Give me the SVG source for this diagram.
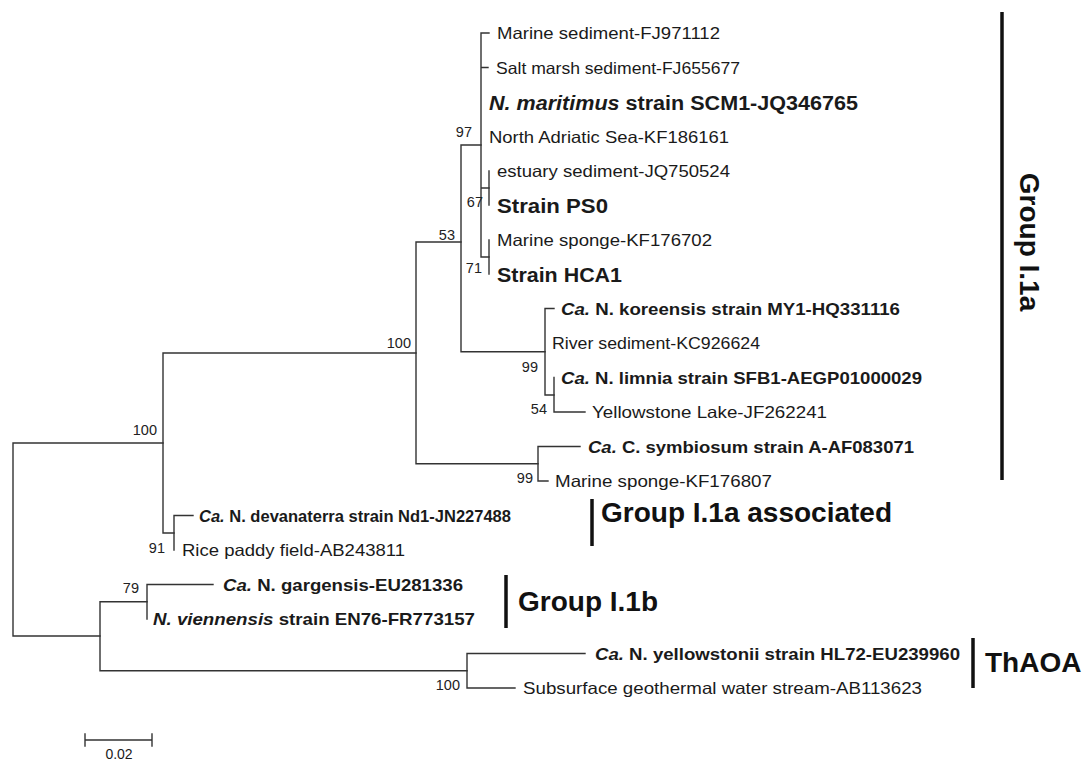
<svg xmlns="http://www.w3.org/2000/svg" width="1085" height="761" viewBox="0 0 1085 761">
<style>
.br{fill:none;stroke:#333;stroke-width:1.4;stroke-linecap:square}
.lf{font-family:"Liberation Sans",Arial,sans-serif;font-size:16.5px;fill:#1a1a1a}
.lb{font-family:"Liberation Sans",Arial,sans-serif;font-size:16.5px;font-weight:bold;fill:#1a1a1a}
.big{font-family:"Liberation Sans",Arial,sans-serif;font-size:20px;font-weight:bold;fill:#1a1a1a}
.sp{font-family:"Liberation Sans",Arial,sans-serif;font-size:14.5px;fill:#222;text-anchor:end}
.grp{font-family:"Liberation Sans",Arial,sans-serif;font-size:28px;font-weight:bold;fill:#111}
.bar{stroke:#111;stroke-width:3.5}
.it{font-style:italic}
</style>
<rect width="1085" height="761" fill="#fff"/>
<g id="connectors">
<path class="br" d="M13 443V636M13 443H163M13 636H100"/>
<path class="br" d="M163 353V533M163 353H416M163 533H174"/>
<path class="br" d="M174 515.5V550M174 515.5H193"/>
<path class="br" d="M416 242V463.75M416 242H461M416 463.75H538"/>
<path class="br" d="M461 145V351.75M461 145H481M461 351.75H545"/>
<path class="br" d="M481 33V257M481 33H489M481 67.5H488M481 188H489M481 257H489"/>
<path class="br" d="M489 171V205M489 240V274"/>
<path class="br" d="M545 308.5V395M545 308.5H554M545 395H554"/>
<path class="br" d="M554 377.5V412M554 412H585"/>
<path class="br" d="M538 446.5V481M538 446.5H580M538 481H548"/>
<path class="br" d="M100 601.75V670.75M100 601.75H147M100 670.75H467"/>
<path class="br" d="M147 584.5V619M147 584.5H213"/>
<path class="br" d="M467 653.5V688M467 653.5H585M467 688H515"/>
</g>
<g id="leaf-FJ971112"><text class="lf" x="497" y="39" textLength="223" lengthAdjust="spacingAndGlyphs">Marine sediment-FJ971112</text></g>
<g id="leaf-FJ655677"><text class="lf" x="496" y="73.5" textLength="244" lengthAdjust="spacingAndGlyphs">Salt marsh sediment-FJ655677</text></g>
<g id="leaf-JQ346765"><text class="big" x="489" y="109.5" textLength="369" lengthAdjust="spacingAndGlyphs"><tspan class="it">N. maritimus</tspan> strain SCM1-JQ346765</text></g>
<g id="leaf-KF186161"><text class="lf" x="489" y="142.5" textLength="240" lengthAdjust="spacingAndGlyphs">North Adriatic Sea-KF186161</text></g>
<g id="leaf-JQ750524"><text class="lf" x="497" y="177" textLength="233" lengthAdjust="spacingAndGlyphs">estuary sediment-JQ750524</text></g>
<g id="leaf-PS0"><text class="big" x="497" y="212.5" textLength="111" lengthAdjust="spacingAndGlyphs">Strain PS0</text></g>
<g id="leaf-KF176702"><text class="lf" x="497" y="246" textLength="215" lengthAdjust="spacingAndGlyphs">Marine sponge-KF176702</text></g>
<g id="leaf-HCA1"><text class="big" x="497" y="281.5" textLength="125" lengthAdjust="spacingAndGlyphs">Strain HCA1</text></g>
<g id="leaf-HQ331116"><text class="lb" x="561" y="314.5" textLength="339" lengthAdjust="spacingAndGlyphs"><tspan class="it">Ca.</tspan> N. koreensis strain MY1-HQ331116</text></g>
<g id="leaf-KC926624"><text class="lf" x="552" y="349" textLength="208" lengthAdjust="spacingAndGlyphs">River sediment-KC926624</text></g>
<g id="leaf-AEGP01000029"><text class="lb" x="561" y="383.5" textLength="361" lengthAdjust="spacingAndGlyphs"><tspan class="it">Ca.</tspan> N. limnia strain SFB1-AEGP01000029</text></g>
<g id="leaf-JF262241"><text class="lf" x="592" y="418" textLength="235" lengthAdjust="spacingAndGlyphs">Yellowstone Lake-JF262241</text></g>
<g id="leaf-AF083071"><text class="lb" x="588" y="452.5" textLength="326" lengthAdjust="spacingAndGlyphs"><tspan class="it">Ca.</tspan> C. symbiosum strain A-AF083071</text></g>
<g id="leaf-KF176807"><text class="lf" x="555" y="487" textLength="217" lengthAdjust="spacingAndGlyphs">Marine sponge-KF176807</text></g>
<g id="leaf-JN227488"><text class="lb" x="199" y="521.5" textLength="312" lengthAdjust="spacingAndGlyphs"><tspan class="it">Ca.</tspan> N. devanaterra strain Nd1-JN227488</text></g>
<g id="leaf-AB243811"><text class="lf" x="182" y="556" textLength="223" lengthAdjust="spacingAndGlyphs">Rice paddy field-AB243811</text></g>
<g id="leaf-EU281336"><text class="lb" x="223" y="590.5" textLength="240" lengthAdjust="spacingAndGlyphs"><tspan class="it">Ca.</tspan> N. gargensis-EU281336</text></g>
<g id="leaf-FR773157"><text class="lb" x="153" y="625" textLength="322" lengthAdjust="spacingAndGlyphs"><tspan class="it">N. viennensis</tspan> strain EN76-FR773157</text></g>
<g id="leaf-EU239960"><text class="lb" x="595" y="659.5" textLength="365" lengthAdjust="spacingAndGlyphs"><tspan class="it">Ca.</tspan> N. yellowstonii strain HL72-EU239960</text></g>
<g id="leaf-AB113623"><text class="lf" x="523" y="694" textLength="399" lengthAdjust="spacingAndGlyphs">Subsurface geothermal water stream-AB113623</text></g>
<g id="support-values">
<text class="sp" x="472" y="137">97</text>
<text class="sp" x="483" y="207">67</text>
<text class="sp" x="482" y="273">71</text>
<text class="sp" x="455" y="240">53</text>
<text class="sp" x="411" y="348">100</text>
<text class="sp" x="538" y="372">99</text>
<text class="sp" x="547" y="414">54</text>
<text class="sp" x="533" y="483">99</text>
<text class="sp" x="157" y="435">100</text>
<text class="sp" x="165" y="553">91</text>
<text class="sp" x="139" y="593">79</text>
<text class="sp" x="460" y="690">100</text>
</g>
<g id="group-I1a"><line class="bar" x1="1002" y1="12" x2="1002" y2="480"/><text class="grp" transform="translate(1020 242) rotate(90)" text-anchor="middle">Group I.1a</text></g>
<g id="group-I1a-assoc"><line class="bar" x1="592" y1="499" x2="592" y2="546"/><text class="grp" x="601" y="522">Group I.1a associated</text></g>
<g id="group-I1b"><line class="bar" x1="506" y1="575" x2="506" y2="628"/><text class="grp" x="518" y="611">Group I.1b</text></g>
<g id="group-ThAOA"><line class="bar" x1="973" y1="638" x2="973" y2="688"/><text class="grp" x="985" y="672">ThAOA</text></g>
<g id="scale-bar"><path class="br" d="M85 740H152M85 734V746M152 734V746"/><text class="lf" style="font-size:14px" x="119" y="759" text-anchor="middle">0.02</text></g>
</svg>
